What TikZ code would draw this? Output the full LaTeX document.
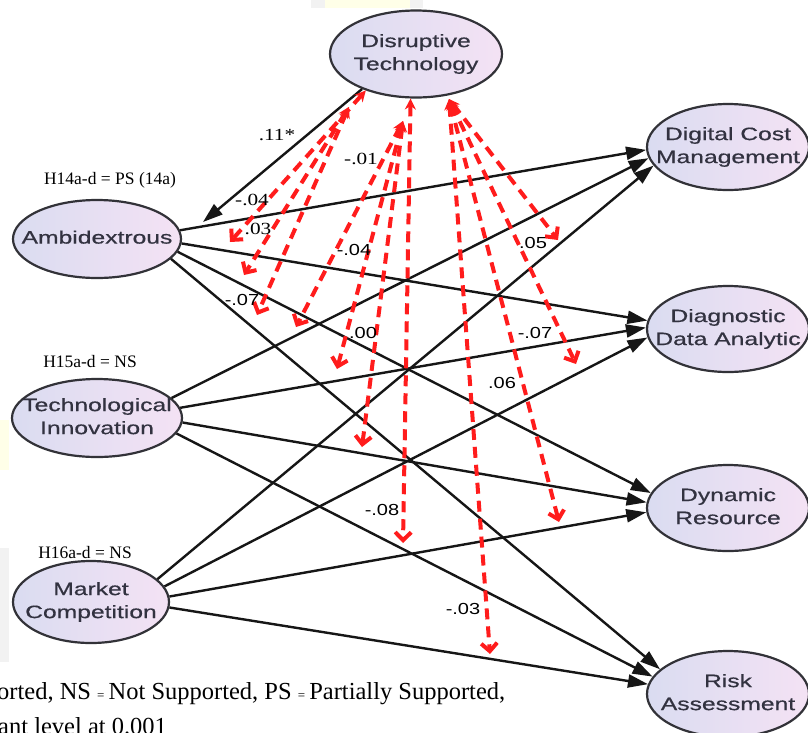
\documentclass[tikz,border=0pt]{standalone}
\usepackage{fontspec}
\setmainfont{Liberation Serif}
\setsansfont{Liberation Sans}
\newfontfamily\namefont[FakeBold=0.5]{Liberation Sans}
\usetikzlibrary{arrows.meta,shapes.geometric}

\definecolor{pathred}{RGB}{255,28,28}
\definecolor{edgeink}{RGB}{22,22,22}
\definecolor{rimink}{RGB}{50,50,56}
\definecolor{nameink}{RGB}{50,50,64}
\definecolor{fillL}{RGB}{218,220,241}
\definecolor{fillR}{RGB}{244,226,244}
\definecolor{markgray}{RGB}{242,242,242}
\definecolor{markyellow}{RGB}{255,255,232}

% construct name: centred, widened sans text that does not grow the ellipse
\newcommand{\cname}[1]{\makebox[0pt]{\scalebox{1.37}[1]{\begin{tabular}{@{}c@{}}#1\end{tabular}}}}
% path coefficient, slightly widened
\newcommand{\coefwide}[1]{\scalebox{1.25}[1]{#1}}

\begin{document}
\begin{tikzpicture}[x=1pt,y=-1pt,
  construct/.style={ellipse, draw=rimink, line width=2.2pt,
    left color=fillL, right color=fillR, inner sep=0pt, text=nameink,
    font=\namefont\fontsize{18}{23}\selectfont},
  effect/.style={draw=edgeink, line width=2.4pt,
    -{Triangle[length=20pt,width=13pt]}},
  moderation/.style={draw=pathred, line width=4pt,
    dash pattern=on 11pt off 7pt,
    {Stealth[length=11pt,width=11pt]}-{Straight Barb[length=8pt,width=16pt]}},
  coef/.style={font=\sffamily\fontsize{16}{16}\selectfont, inner sep=0pt},
  coefserif/.style={font=\rmfamily\fontsize{17}{17}\selectfont, inner sep=0pt},
  hyp/.style={font=\rmfamily\fontsize{17.5}{17.5}\selectfont, inner sep=0pt},
  note/.style={font=\rmfamily\fontsize{24.5}{24.5}\selectfont, inner sep=0pt, anchor=base west}
]
\useasboundingbox (0,0) rectangle (808,732);
\fill[white] (0,0) rectangle (808,732);

% faint marks along the edges
\fill[markgray] (311,0) rectangle (325,8);
\fill[markyellow] (325,0) rectangle (410,8);
\fill[markgray] (410,0) rectangle (423,8);
\fill[markyellow] (0,420) rectangle (9,470);
\fill[markgray] (0,548) rectangle (9,662);

% constructs
\node[construct, minimum width=172pt, minimum height=87pt] (dt)  at (416,54)  {\cname{Disruptive\\Technology}};
\node[construct, minimum width=168pt, minimum height=78pt] (amb) at (97,239)  {\cname{Ambidextrous}};
\node[construct, minimum width=170pt, minimum height=78pt] (ti)  at (97,418)  {\cname{Technological\\Innovation}};
\node[construct, minimum width=156pt, minimum height=82pt] (mc)  at (91,602)  {\cname{Market\\Competition}};
\node[construct, minimum width=162pt, minimum height=86pt] (dcm) at (728,147) {\cname{Digital Cost\\Management}};
\node[construct, minimum width=162pt, minimum height=86pt] (dda) at (728,329) {\cname{Diagnostic\\Data Analytic}};
\node[construct, minimum width=162pt, minimum height=86pt] (dr)  at (728,508) {\cname{Dynamic\\Resource}};
\node[construct, minimum width=162pt, minimum height=86pt] (ra)  at (728,694) {\cname{Risk\\Assessment}};

% direct effects
\coordinate (ambTip) at (203,222);
\draw[effect] (dt.213) -- (ambTip);

\draw[effect] (amb.6)   -- (dcm.182);
\draw[effect] (amb.357) -- (dda.174);
\draw[effect] (amb.351) -- (dr.169);
\draw[effect] (amb.345) -- (ra.160);

\draw[effect] (ti.15)  -- (dcm.188);
\draw[effect] (ti.7)   -- (dda.179);
\draw[effect] (ti.357) -- (dr.176);
\draw[effect] (ti.349) -- (ra.167);

\draw[effect] (mc.19)  -- (dcm.194);
\draw[effect] (mc.12)  -- (dda.186);
\draw[effect] (mc.4)   -- (dr.183);
\draw[effect] (mc.356) -- (ra.173);

% moderating paths from Disruptive Technology
\coordinate (sL) at (349,107);
\coordinate (sM) at (403,121);
\coordinate (sR) at (449,99);
\coordinate (m1)  at (230,242);
\coordinate (m2)  at (244,275);
\coordinate (m3)  at (257,315);
\coordinate (m4)  at (296,327);
\coordinate (m5)  at (337,369);
\coordinate (m6)  at (362,447);
\coordinate (m7)  at (403,543);
\coordinate (m8)  at (490,654);
\coordinate (m9)  at (559,522);
\coordinate (m10) at (576,364);
\coordinate (m11) at (558,240);

\draw[moderation] (dt.216) -- (m1);
\draw[moderation] (sL) -- (m2);
\draw[moderation] (sL) -- (m3);
\draw[moderation] (sM) -- (m4);
\draw[moderation] (sM) -- (m5);
\draw[moderation] (sM) -- (m6);
\draw[moderation] (dt.263) -- (m7);
\draw[moderation] (sR) -- (m8);
\draw[moderation] (sR) -- (m9);
\draw[moderation] (sR) -- (m10);
\draw[moderation] (sR) -- (m11);

% coefficients
\node[coefserif] (c1)  at (277,135) {\coefwide{.11*}};
\node[coefserif] (c2)  at (252,200) {\coefwide{-.04}};
\node[coefserif] (c3)  at (258,229) {\coefwide{.03}};
\node[coefserif] (c4)  at (361,159) {\coefwide{-.01}};
\node[coef] (c5)  at (354,250) {\coefwide{-.04}};
\node[coef] (c6)  at (242,300) {\coefwide{-.07}};
\node[coef] (c7)  at (363,333) {\coefwide{.00}};
\node[coef] (c8)  at (533,243) {\coefwide{.05}};
\node[coef] (c9)  at (535,333) {\coefwide{-.07}};
\node[coef] (c10) at (502,383) {\coefwide{.06}};
\node[coef] (c11) at (382,510) {\coefwide{-.08}};
\node[coef] (c12) at (463,609) {\coefwide{-.03}};

% hypothesis results
\node[hyp] (h14) at (110,180) {H14a-d = PS (14a)};
\node[hyp] (h15) at (90,362)  {H15a-d = NS};
\node[hyp] (h16) at (85,553)  {H16a-d = NS};

% legend lines
\node[note] (n1) at (-3,699) {orted, NS {\fontsize{13}{13}\selectfont =}\,Not Supported, PS {\fontsize{13}{13}\selectfont =}\,Partially Supported,};
\node[note] (n2) at (-2,734) {ant level at 0.001};
\end{tikzpicture}
\end{document}
